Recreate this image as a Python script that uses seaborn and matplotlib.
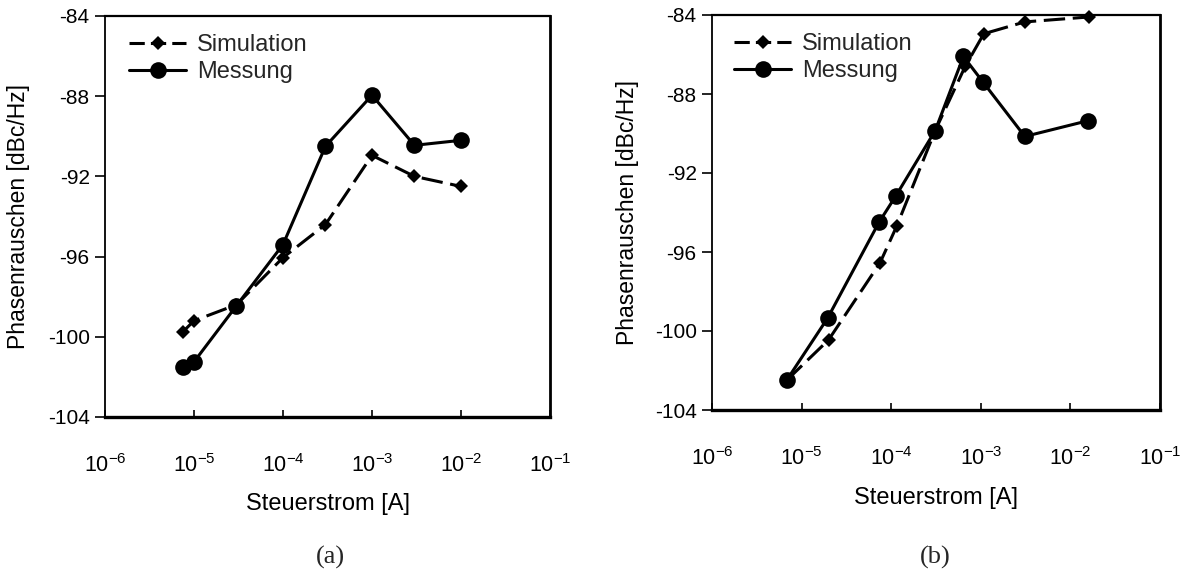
import numpy as np
import pandas as pd
import matplotlib
matplotlib.use("Agg")
import matplotlib.pyplot as plt
import seaborn as sns
from matplotlib.ticker import LogFormatterSciNotation, FixedLocator, NullLocator

# ---- data ----
x_a = [7.5e-6, 1.0e-5, 3.0e-5, 1.0e-4, 3.0e-4, 1.0e-3, 3.0e-3, 1.0e-2]
sim_a = [-99.75, -99.2, -98.4, -96.05, -94.4, -90.95, -92.0, -92.5]
mes_a = [-101.5, -101.25, -98.45, -95.4, -90.5, -87.95, -90.45, -90.2]

sim_b_x = [6.8e-6, 2.0e-5, 7.5e-5, 1.15e-4, 3.1e-4, 6.7e-4, 1.08e-3, 3.1e-3, 1.6e-2]
sim_b_y = [-102.5, -100.45, -96.55, -94.7, -89.85, -86.6, -84.95, -84.35, -84.1]
mes_b_x = [6.8e-6, 1.95e-5, 7.3e-5, 1.13e-4, 3.1e-4, 6.4e-4, 1.06e-3, 3.1e-3, 1.58e-2]
mes_b_y = [-102.5, -99.35, -94.5, -93.15, -89.85, -86.1, -87.4, -90.15, -89.35]

y_ticks = [-104, -100, -96, -92, -88, -84]
x_ticks = [1e-6, 1e-5, 1e-4, 1e-3, 1e-2, 1e-1]
series_names = ["Simulation", "Messung"]
xlabel = "Steuerstrom [A]"
ylabel = "Phasenrauschen [dBc/Hz]"
captions = ["(a)", "(b)"]

sns.set_theme(style="white")
plt.rcParams["font.family"] = ["Liberation Sans", "DejaVu Sans"]
plt.rcParams["mathtext.default"] = "regular"
plt.rcParams["axes.unicode_minus"] = False

fig = plt.figure(figsize=(11.81, 5.76), dpi=100)
ax_a = fig.add_axes([105 / 1181, 1 - 417 / 576, 445 / 1181, 401 / 576])
ax_b = fig.add_axes([712 / 1181, 1 - 410 / 576, 448 / 1181, 395 / 576])

DASH = (7, 2.5)


def draw(ax, sx, sy, mx, my, leg_anchor, ylab_x, xlab_y):
    d_sim = pd.DataFrame({"x": sx, "y": sy})
    d_mes = pd.DataFrame({"x": mx, "y": my})
    sns.lineplot(data=d_sim, x="x", y="y", ax=ax, color="black", lw=2.2,
                 marker="D", markersize=7, markeredgewidth=0, sort=False,
                 estimator=None, label=series_names[0], clip_on=False, zorder=3)
    sns.lineplot(data=d_mes, x="x", y="y", ax=ax, color="black", lw=2.2,
                 marker="o", markersize=12, markeredgewidth=0, sort=False,
                 estimator=None, label=series_names[1], clip_on=False, zorder=4)
    ax.lines[0].set_dashes(DASH)
    ax.set_xscale("log")
    ax.set_xlim(1e-6, 1e-1)
    ax.set_ylim(-104, -84)
    ax.xaxis.set_major_locator(FixedLocator(x_ticks))
    ax.xaxis.set_major_formatter(LogFormatterSciNotation())
    ax.xaxis.set_minor_locator(NullLocator())
    ax.set_yticks(y_ticks)
    ax.tick_params(axis="x", direction="in", length=5, width=1.2, pad=27,
                   labelsize=15.5, bottom=True, colors="black")
    ax.tick_params(axis="y", direction="out", length=7, width=1.2, pad=4,
                   labelsize=15, left=True, colors="black")
    ax.set_xlabel(xlabel, fontsize=17, color="black")
    ax.set_ylabel(ylabel, fontsize=16.5, color="black")
    ax.yaxis.set_label_coords(ylab_x, 0.5)
    ax.xaxis.set_label_coords(0.5, xlab_y)
    for s, w in zip(["left", "top", "right", "bottom"], [1.3, 1.6, 2.0, 2.4]):
        ax.spines[s].set_visible(True)
        ax.spines[s].set_color("black")
        ax.spines[s].set_linewidth(w)
    ax.grid(False)
    leg = ax.legend(loc="upper left", bbox_to_anchor=leg_anchor, frameon=False,
                    fontsize=17, handlelength=2.4, handletextpad=0.45,
                    borderpad=0, borderaxespad=0, labelspacing=0.22)
    leg.get_lines()[0].set_dashes((5, 2))


draw(ax_a, x_a, sim_a, x_a, mes_a, (0.055, 0.955), -0.168, -0.19)
draw(ax_b, sim_b_x, sim_b_y, mes_b_x, mes_b_y, (0.05, 0.955), -0.163, -0.195)

fig.text(330 / 1181, 1 - 557 / 576, captions[0], ha="center", va="center",
         fontsize=19, family=["Liberation Serif", "DejaVu Serif"])
fig.text(935 / 1181, 1 - 557 / 576, captions[1], ha="center", va="center",
         fontsize=19, family=["Liberation Serif", "DejaVu Serif"])

fig.savefig("out.png", dpi=100, facecolor="white")
